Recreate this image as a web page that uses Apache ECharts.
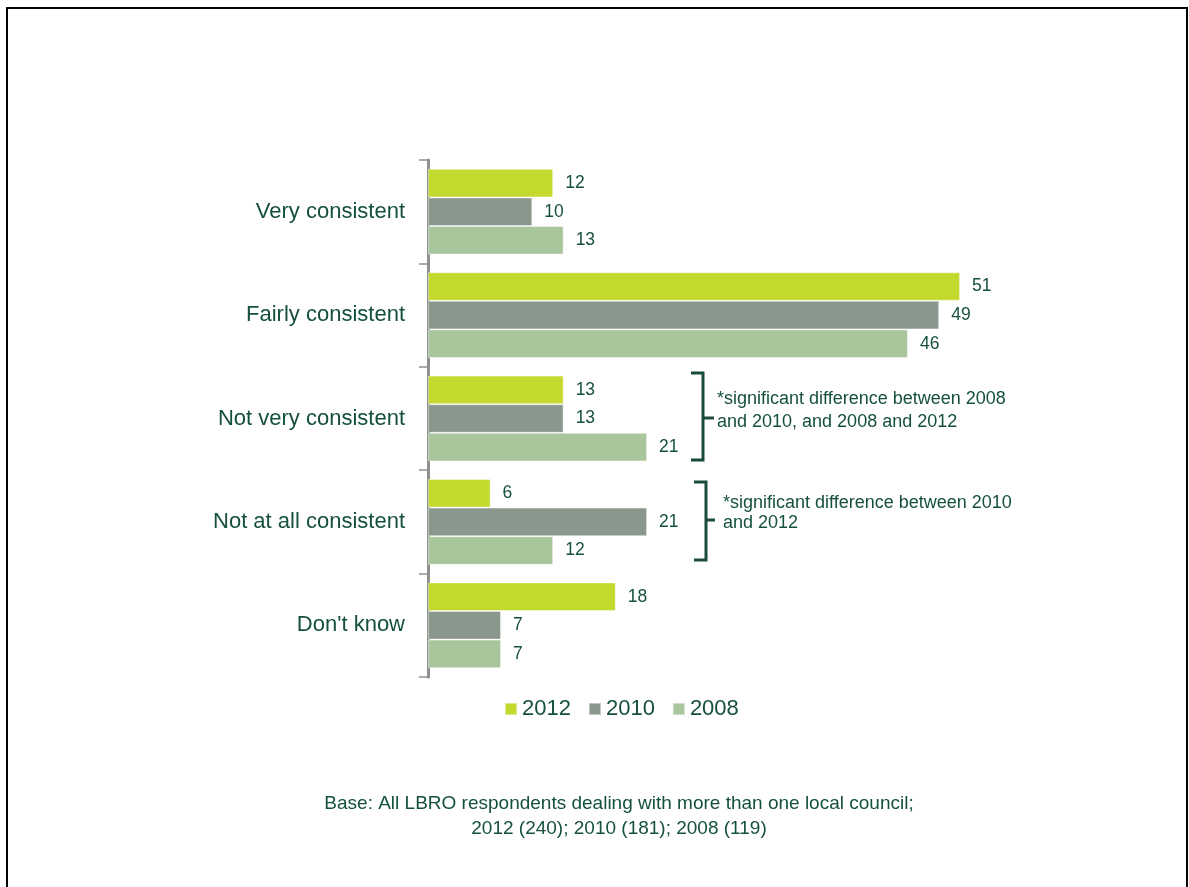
<!DOCTYPE html>
<html>
<head>
<meta charset="utf-8">
<script src="https://cdn.jsdelivr.net/npm/echarts@6/dist/echarts.min.js"></script>
<style>
html,body{margin:0;padding:0;background:#fff;}
#chart{width:1189px;height:887px;}
</style>
</head>
<body>
<div id="chart"></div>
<script>
var categories = ['Very consistent', 'Fairly consistent', 'Not very consistent', 'Not at all consistent', "Don't know"];
var seriesNames = ['2012', '2010', '2008'];
var values2012 = [12, 51, 13, 6, 18];
var values2010 = [10, 49, 13, 21, 7];
var values2008 = [13, 46, 21, 12, 7];
var note1 = ['*significant difference between 2008', 'and 2010, and 2008 and 2012'];
var note2 = ['*significant difference between 2010', 'and 2012'];
var baseNote = ['Base: All LBRO respondents dealing with more than one local council;', '2012 (240); 2010 (181); 2008 (119)'];

var colors = ['#c4d92e', '#8a978d', '#a9c59b'];
var textColor = '#15503d';
var font = 'Liberation Sans, Arial, sans-serif';

var chart = echarts.init(document.getElementById('chart'));

function mkSeries(name, data, color) {
  return {
    name: name,
    type: 'bar',
    data: data,
    barGap: '0%',
    barCategoryGap: '17%',
    itemStyle: { color: color, borderColor: 'rgba(255,255,255,0.45)', borderWidth: 1 },
    label: {
      show: true, position: 'right', distance: 12,
      color: textColor, fontSize: 17.5, fontFamily: font
    }
  };
}

var brColor = '#1a4b3a';
function bracket(x, y1, y2, capLeft, tickRight, ym) {
  return [
    { type: 'polyline', shape: { points: [[capLeft, y1], [x, y1], [x, y2], [capLeft, y2]] },
      style: { stroke: brColor, lineWidth: 3, fill: null } },
    { type: 'line', shape: { x1: x, y1: ym, x2: tickRight, y2: ym },
      style: { stroke: brColor, lineWidth: 3 } }
  ];
}

var graphics = [
  { type: 'rect', shape: { x: 7, y: 8, width: 1180, height: 920 },
    style: { fill: null, stroke: '#000', lineWidth: 2 }, silent: true }
];
graphics = graphics.concat(bracket(703, 373, 460, 691, 714, 418));
graphics = graphics.concat(bracket(706, 482, 560, 694, 715, 520));
graphics.push(
  { type: 'text', x: 717, y: 399, style: { text: note1[0], fill: textColor, font: '18px ' + font, textVerticalAlign: 'middle' } },
  { type: 'text', x: 717, y: 422, style: { text: note1[1], fill: textColor, font: '18px ' + font, textVerticalAlign: 'middle' } },
  { type: 'text', x: 723, y: 503, style: { text: note2[0], fill: textColor, font: '18px ' + font, textVerticalAlign: 'middle' } },
  { type: 'text', x: 723, y: 523, style: { text: note2[1], fill: textColor, font: '18px ' + font, textVerticalAlign: 'middle' } },
  { type: 'text', x: 619, y: 804, style: { text: baseNote[0], fill: textColor, font: '19px ' + font, textAlign: 'center', textVerticalAlign: 'middle' } },
  { type: 'text', x: 619, y: 829, style: { text: baseNote[1], fill: textColor, font: '19px ' + font, textAlign: 'center', textVerticalAlign: 'middle' } }
);

chart.setOption({
  animation: false,
  backgroundColor: '#fff',
  grid: { left: 428, top: 160, width: 626, bottom: 210, containLabel: false },
  legend: {
    data: seriesNames,
    left: 504, top: 698,
    itemWidth: 12, itemHeight: 12, itemGap: 17,
    icon: 'rect',
    padding: 0,
    textStyle: { color: textColor, fontSize: 22, fontFamily: font, padding: [0, 0, 0, 0] }
  },
  xAxis: {
    type: 'value', min: 0, max: 60,
    show: false
  },
  yAxis: {
    type: 'category',
    data: categories,
    inverse: true,
    axisLine: { show: true, lineStyle: { color: '#8c918e', width: 3 } },
    axisTick: { show: true, length: 9, lineStyle: { color: '#8c918e', width: 1.5 } },
    axisLabel: { color: textColor, fontSize: 22, fontFamily: font, margin: 23 }
  },
  series: [
    mkSeries(seriesNames[0], values2012, colors[0]),
    mkSeries(seriesNames[1], values2010, colors[1]),
    mkSeries(seriesNames[2], values2008, colors[2])
  ],
  graphic: graphics
});
</script>
</body>
</html>
